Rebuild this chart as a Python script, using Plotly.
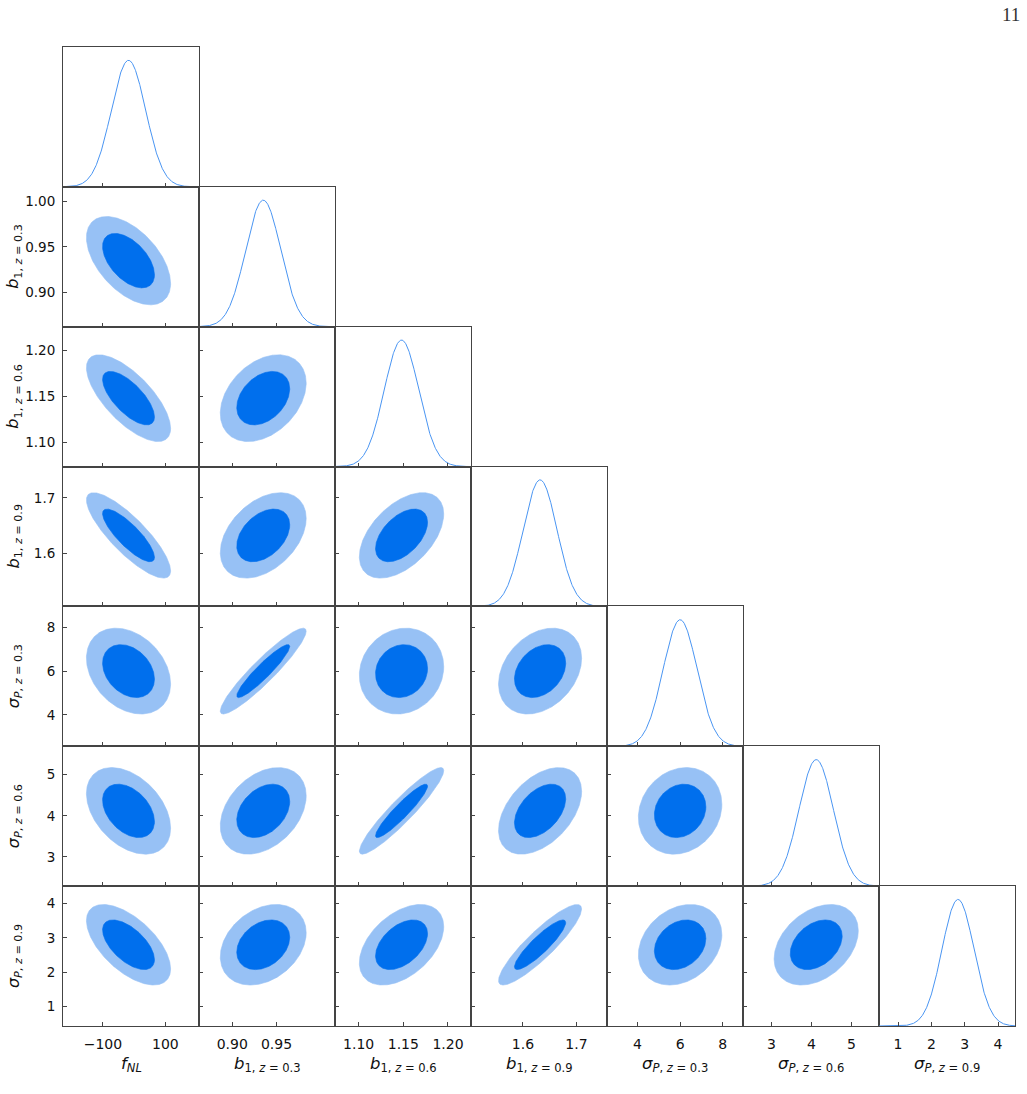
import numpy as np
import plotly.graph_objects as go

# ---------------- data ----------------
param_names = ["fNL", "b1_z0.3", "b1_z0.6", "b1_z0.9", "sigP_z0.3", "sigP_z0.6", "sigP_z0.9"]
param_labels = [
    "<i>f</i><sub><i>NL</i></sub>",
    "<i>b</i><sub>1, <i>z</i> = 0.3</sub>",
    "<i>b</i><sub>1, <i>z</i> = 0.6</sub>",
    "<i>b</i><sub>1, <i>z</i> = 0.9</sub>",
    "<i>σ</i><sub><i>P</i>, <i>z</i> = 0.3</sub>",
    "<i>σ</i><sub><i>P</i>, <i>z</i> = 0.6</sub>",
    "<i>σ</i><sub><i>P</i>, <i>z</i> = 0.9</sub>",
]
means = [-18.0, 0.935, 1.148, 1.632, 6.0, 4.12, 2.80]
sigmas = [55.0, 0.0198, 0.0193, 0.0317, 0.80, 0.43, 0.48]
correlations = [
    [1.00, -0.52, -0.70, -0.83, -0.30, -0.40, -0.60],
    [-0.52, 1.00, 0.35, 0.40, 0.93, 0.35, 0.30],
    [-0.70, 0.35, 1.00, 0.50, 0.10, 0.93, 0.45],
    [-0.83, 0.40, 0.50, 1.00, 0.30, 0.45, 0.89],
    [-0.30, 0.93, 0.10, 0.30, 1.00, 0.15, 0.25],
    [-0.40, 0.35, 0.93, 0.45, 0.15, 1.00, 0.35],
    [-0.60, 0.30, 0.45, 0.89, 0.25, 0.35, 1.00],
]
axis_ranges = [
    [-227.6, 207.5],
    [0.8625, 1.0160],
    [1.0735, 1.2258],
    [1.503, 1.757],
    [2.57, 8.95],
    [2.29, 5.69],
    [0.43, 4.51],
]
x_tick_values = [[-100, 100], [0.90, 0.95], [1.10, 1.15, 1.20], [1.6, 1.7], [4, 6, 8], [3, 4, 5], [1, 2, 3, 4]]
x_tick_labels = [["−100", "100"], ["0.90", "0.95"], ["1.10", "1.15", "1.20"], ["1.6", "1.7"], ["4", "6", "8"], ["3", "4", "5"], ["1", "2", "3", "4"]]
y_tick_values = [[], [0.90, 0.95, 1.00], [1.10, 1.15, 1.20], [1.6, 1.7], [4, 6, 8], [3, 4, 5], [1, 2, 3, 4]]
y_tick_labels = [[], ["0.90", "0.95", "1.00"], ["1.10", "1.15", "1.20"], ["1.6", "1.7"], ["4", "6", "8"], ["3", "4", "5"], ["1", "2", "3", "4"]]
confidence_levels = [0.95, 0.68]
page_number = "11"

# ---------------- styling / layout ----------------
W, H = 1027, 1094
LEFT, TOP, PW, PH = 63, 47, 136, (1026 - 47) / 7
N = len(param_names)
DARK = "#006FED"
LIGHT = "#97C1F5"
LINE1D = "#4A95F2"
FILL = {0.95: LIGHT, 0.68: DARK}
AXC = "#444444"
FONT = "DejaVu Sans"

fig = go.Figure()
layout = {}
annotations = []

def dom_x(j):
    return [(LEFT + PW * j) / W, (LEFT + PW * (j + 1)) / W]

def dom_y(i):
    top = TOP + PH * i
    return [1 - (top + PH) / H, 1 - top / H]

t = np.linspace(0, 2 * np.pi, 361)
n = 0
for i in range(N):
    for j in range(i + 1):
        n += 1
        xa = "x" if n == 1 else f"x{n}"
        ya = "y" if n == 1 else f"y{n}"
        xkey = "xaxis" if n == 1 else f"xaxis{n}"
        ykey = "yaxis" if n == 1 else f"yaxis{n}"
        if i == j:
            lo, hi = axis_ranges[j]
            xs = np.linspace(lo, hi, 400)
            ys = np.exp(-0.5 * ((xs - means[j]) / sigmas[j]) ** 2)
            fig.add_trace(go.Scatter(x=xs, y=ys, mode="lines", xaxis=xa, yaxis=ya,
                                     line=dict(color=LINE1D, width=1), hoverinfo="skip",
                                     showlegend=False))
            layout[ykey] = dict(domain=dom_y(i), anchor=xa, range=[0, 1.105],
                                showticklabels=False, ticks="", showgrid=False,
                                zeroline=False, showline=True, mirror=True,
                                linecolor=AXC, linewidth=1)
        else:
            sx, sy = sigmas[j], sigmas[i]
            rho = correlations[i][j]
            cov = np.array([[sx * sx, rho * sx * sy], [rho * sx * sy, sy * sy]])
            L = np.linalg.cholesky(cov)
            for p in confidence_levels:
                r = np.sqrt(-2 * np.log(1 - p))
                pts = L @ np.vstack([np.cos(t), np.sin(t)]) * r
                fig.add_trace(go.Scatter(x=means[j] + pts[0], y=means[i] + pts[1],
                                         mode="lines", fill="toself", fillcolor=FILL[p],
                                         line=dict(color=FILL[p], width=0.6),
                                         xaxis=xa, yaxis=ya, hoverinfo="skip",
                                         showlegend=False))
            layout[ykey] = dict(domain=dom_y(i), anchor=xa, range=axis_ranges[i],
                                tickvals=y_tick_values[i], ticktext=y_tick_labels[i],
                                showticklabels=(j == 0), ticks="inside", ticklen=4,
                                tickwidth=1, tickcolor=AXC, showgrid=False, zeroline=False,
                                showline=True, mirror=True, linecolor=AXC, linewidth=1,
                                ticklabelstandoff=4,
                                tickfont=dict(family=FONT, size=13.5, color="#111"))
        layout[xkey] = dict(domain=dom_x(j), anchor=ya, range=axis_ranges[j],
                            tickvals=x_tick_values[j], ticktext=x_tick_labels[j],
                            showticklabels=(i == N - 1), ticks="inside", ticklen=4,
                            tickwidth=1, tickcolor=AXC, showgrid=False, zeroline=False,
                            showline=True, mirror=True, linecolor=AXC, linewidth=1,
                            ticklabelstandoff=5,
                            tickfont=dict(family=FONT, size=14, color="#111"))

# axis labels
for j in range(N):
    annotations.append(dict(text=param_labels[j], xref="paper", yref="paper",
                            x=(LEFT + PW * (j + 0.5)) / W, y=1 - 1064 / H,
                            xanchor="center", yanchor="middle", showarrow=False,
                            font=dict(family=FONT, size=16.5, color="#111")))
for i in range(1, N):
    annotations.append(dict(text=param_labels[i], xref="paper", yref="paper",
                            x=14 / W, y=1 - (TOP + PH * (i + 0.5)) / H,
                            xanchor="center", yanchor="middle", showarrow=False,
                            textangle=-90,
                            font=dict(family=FONT, size=16, color="#111")))
annotations.append(dict(text=page_number, xref="paper", yref="paper",
                        x=1011 / W, y=1 - 14 / H, xanchor="center", yanchor="middle",
                        showarrow=False,
                        font=dict(family="Liberation Serif", size=19, color="#333")))

fig.update_layout(width=W, height=H, margin=dict(l=0, r=0, t=0, b=0),
                  paper_bgcolor="white", plot_bgcolor="rgba(0,0,0,0)",
                  annotations=annotations, showlegend=False, **layout)
fig.write_html("out.html")
